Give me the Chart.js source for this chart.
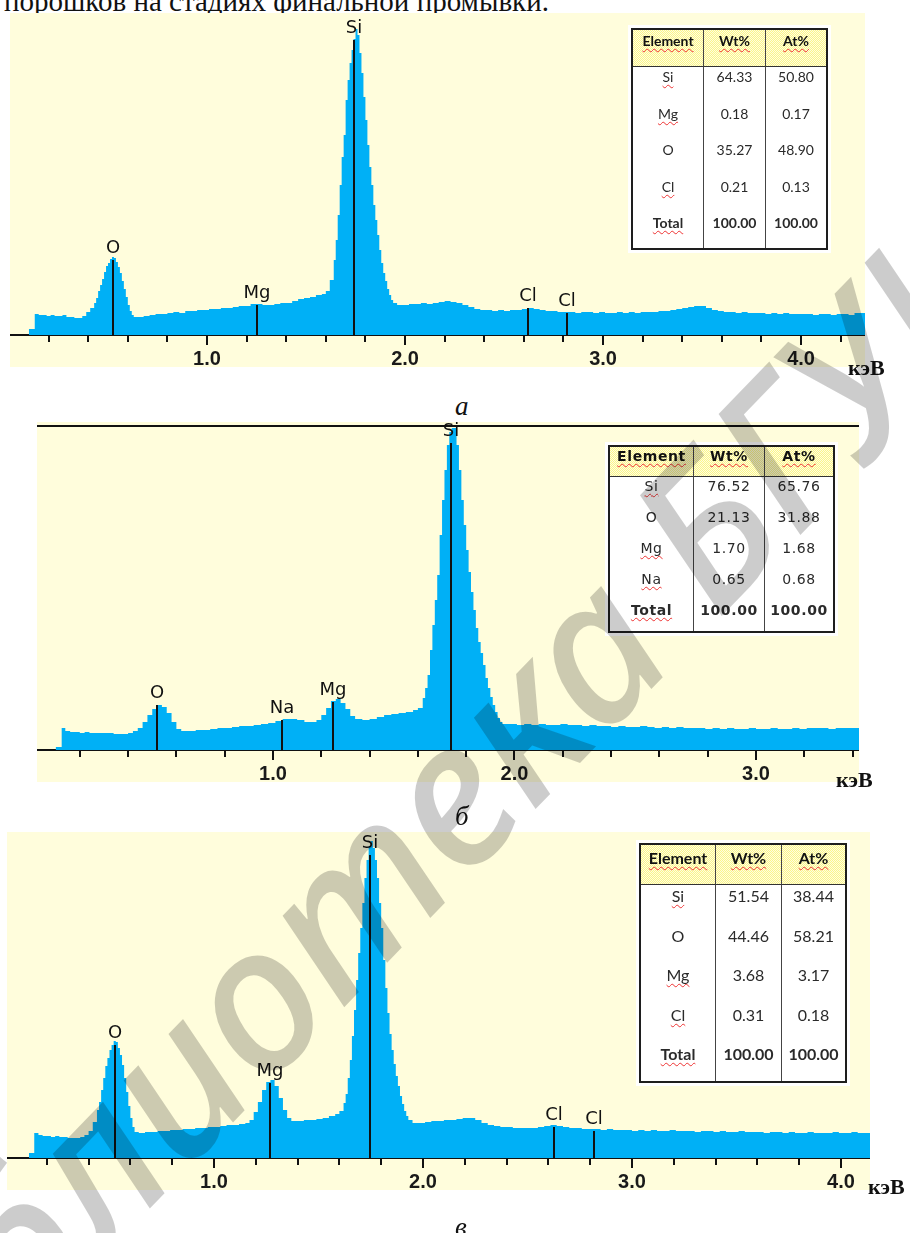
<!DOCTYPE html>
<html><head><meta charset="utf-8">
<script src="https://cdn.jsdelivr.net/npm/chart.js@4.4.1/dist/chart.umd.min.js"></script>
<style>
html,body{margin:0;padding:0;background:#fff;}
body{width:910px;height:1233px;position:relative;overflow:hidden;}
.panel{position:absolute;background:#fffddc;}
.panel canvas{position:absolute;left:0;top:0;}
.txt{position:absolute;line-height:1;color:#111;white-space:nowrap;}
.caption{font:italic 27px "Liberation Serif",serif;}
.unit{font:bold 22px "Liberation Serif",serif;}
.eds{position:absolute;display:grid;box-sizing:border-box;border:2px solid #1e1e1e;background:#fff;box-shadow:0 0 0 3px #fff;color:#2a2a2a;line-height:1.15;}
.cell{text-align:center;box-sizing:border-box;}
.cell.hd{background:repeating-conic-gradient(#fbf68a 0 25%,#fffde0 0 50%) 0 0/2px 2px;border-bottom:1.5px solid #333;color:#111;}
.cell.sep{border-left:1.5px solid #444;}
.sp{text-decoration:underline wavy #e33;text-decoration-thickness:1px;text-underline-offset:2px;text-decoration-skip-ink:none;}
#wm{position:absolute;left:0;top:0;pointer-events:none;z-index:20;}
</style>
</head><body>
<div class="txt" style="left:4px;top:-15px;font:29px 'Liberation Serif',serif;">порошков на стадиях финальной промывки.</div>

<div class="panel" style="left:10px;top:13px;width:855px;height:354px;"><canvas id="cA" width="855" height="354"></canvas></div>
<div class="panel" style="left:37px;top:422px;width:822px;height:360px;"><canvas id="cB" width="822" height="360"></canvas></div>
<div class="panel" style="left:7px;top:832px;width:863px;height:358px;"><canvas id="cC" width="863" height="358"></canvas></div>

<div class="txt unit" style="left:848px;top:355px;">кэВ</div>
<div class="txt unit" style="left:836px;top:767px;">кэВ</div>
<div class="txt unit" style="left:868px;top:1174px;">кэВ</div>
<div class="txt caption" style="left:455px;top:391px;">а</div>
<div class="txt caption" style="left:455px;top:801px;">б</div>
<div class="txt caption" style="left:455px;top:1212px;">в</div>

<canvas id="wm" width="910" height="1233"></canvas>

<script>
// ---------- Spectrum (а) ----------
const energyA = [
0.10,0.13,0.15,0.17,0.19,0.21,0.23,0.25,0.27,0.29,
0.31,0.33,0.35,0.37,0.39,0.41,0.43,0.44,0.45,0.46,
0.47,0.48,0.49,0.50,0.51,0.52,0.53,0.54,0.55,0.56,
0.57,0.58,0.59,0.60,0.61,0.62,0.63,0.65,0.68,0.71,
0.74,0.77,0.80,0.83,0.86,0.89,0.92,0.95,0.98,1.01,
1.04,1.07,1.10,1.13,1.16,1.19,1.22,1.25,1.28,1.31,
1.34,1.37,1.40,1.43,1.46,1.49,1.52,1.55,1.58,1.60,
1.62,1.64,1.65,1.66,1.67,1.68,1.69,1.70,1.71,1.72,
1.73,1.74,1.75,1.76,1.77,1.78,1.79,1.80,1.81,1.82,
1.83,1.84,1.85,1.86,1.87,1.88,1.89,1.90,1.91,1.92,
1.93,1.94,1.96,1.99,2.02,2.05,2.08,2.11,2.14,2.17,
2.20,2.23,2.26,2.29,2.32,2.35,2.38,2.41,2.44,2.47,
2.50,2.53,2.56,2.59,2.62,2.65,2.68,2.71,2.74,2.77,
2.80,2.83,2.86,2.89,2.92,2.95,2.98,3.01,3.04,3.07,
3.10,3.13,3.16,3.19,3.22,3.25,3.28,3.31,3.34,3.37,
3.40,3.43,3.46,3.49,3.52,3.55,3.58,3.61,3.64,3.67,
3.70,3.73,3.76,3.79,3.82,3.85,3.88,3.91,3.94,3.97,
4.00,4.03,4.06,4.09,4.12,4.15,4.18,4.21,4.24,4.27,
4.30,4.33];
const countsA = [
6,21,20,20,19,20,19,19,20,18,
18,17,17,19,23,27,32,37,44,50,
56,63,69,72,76,78,77,73,68,62,
54,46,38,30,24,20,18,18,19,20,
21,21,22,23,22,24,24,25,25,26,
26,27,27,28,29,29,31,31,30,30,
31,32,32,34,36,37,38,40,41,44,
55,75,95,120,150,178,200,235,255,272,
285,296,306,300,282,262,238,215,190,168,
150,130,115,100,85,72,62,54,46,40,
35,32,30,30,31,31,32,31,32,33,
34,33,32,30,28,26,25,25,24,25,
24,25,25,26,27,26,25,24,24,23,
23,23,22,23,23,22,23,22,22,23,
22,23,22,23,23,23,24,24,25,26,
27,28,29,29,27,25,24,23,23,22,
23,22,22,22,21,22,21,22,21,21,
21,21,20,21,21,20,21,21,20,22,
22,22];
const markerKeVA = [0.525,1.253,1.74,2.62,2.82];
const markerTopA = [75,30,295,27,22];
const markerLabA = ['O','Mg','Si','Cl','Cl'];

// ---------- Spectrum (б) ----------
const energyB = [
0.10,0.125,0.14,0.16,0.18,0.20,0.22,0.24,0.26,0.28,
0.30,0.32,0.34,0.36,0.38,0.40,0.42,0.44,0.46,0.48,
0.50,0.52,0.54,0.56,0.58,0.60,0.62,0.65,0.68,0.71,
0.74,0.77,0.80,0.83,0.86,0.89,0.92,0.95,0.98,1.01,
1.04,1.07,1.10,1.13,1.16,1.18,1.20,1.22,1.24,1.26,
1.28,1.30,1.32,1.34,1.37,1.40,1.43,1.46,1.49,1.52,
1.55,1.58,1.60,1.62,1.63,1.64,1.65,1.66,1.67,1.68,
1.69,1.70,1.71,1.72,1.73,1.74,1.75,1.76,1.77,1.78,
1.79,1.80,1.81,1.82,1.83,1.84,1.85,1.86,1.87,1.88,
1.89,1.90,1.91,1.92,1.93,1.94,1.95,1.98,2.01,2.04,
2.07,2.10,2.13,2.16,2.19,2.22,2.25,2.28,2.31,2.34,
2.37,2.40,2.43,2.46,2.49,2.52,2.55,2.58,2.61,2.64,
2.67,2.70,2.73,2.76,2.79,2.82,2.85,2.88,2.91,2.94,
2.97,3.00,3.03,3.06,3.09,3.12,3.15,3.18,3.21,3.24,
3.27,3.30,3.33,3.36,3.39,3.43];
const countsB = [
3,22,19,18,18,17,18,17,17,17,
17,17,16,16,16,17,19,22,28,35,
41,45,43,37,28,21,19,19,20,20,
21,22,22,23,24,24,25,26,27,29,
31,31,30,28,28,30,35,42,49,51,
47,41,34,31,30,31,33,35,36,37,
38,40,42,52,62,75,100,125,150,175,
215,250,280,305,318,322,322,305,280,250,
225,200,178,158,140,122,108,97,85,72,
62,53,45,38,32,28,26,26,25,26,
25,26,25,25,26,25,25,24,25,24,
24,23,24,23,23,24,23,22,23,22,
23,22,22,22,21,22,21,22,21,21,
22,21,21,22,21,21,22,21,22,22,
22,21,22,22,22,22];
const markerKeVB = [0.52,1.039,1.25,1.736];
const markerTopB = [45,30,48,307];
const markerLabB = ['O','Na','Mg','Si'];

// ---------- Spectrum (в) ----------
const energyC = [
0.115,0.14,0.16,0.18,0.20,0.22,0.24,0.26,0.28,0.30,
0.32,0.34,0.36,0.38,0.40,0.42,0.44,0.45,0.46,0.47,
0.48,0.49,0.50,0.51,0.52,0.53,0.54,0.55,0.56,0.57,
0.58,0.59,0.60,0.61,0.62,0.64,0.67,0.70,0.73,0.76,
0.79,0.82,0.85,0.88,0.91,0.94,0.97,1.00,1.03,1.06,
1.09,1.12,1.15,1.17,1.19,1.21,1.23,1.25,1.27,1.29,
1.31,1.33,1.35,1.37,1.40,1.43,1.46,1.49,1.52,1.55,
1.58,1.60,1.62,1.63,1.64,1.65,1.66,1.67,1.68,1.69,
1.70,1.71,1.72,1.73,1.74,1.75,1.76,1.77,1.78,1.79,
1.80,1.81,1.82,1.83,1.84,1.85,1.86,1.87,1.88,1.89,
1.90,1.91,1.92,1.93,1.95,1.98,2.01,2.04,2.07,2.10,
2.13,2.16,2.19,2.22,2.25,2.28,2.31,2.34,2.37,2.40,
2.43,2.46,2.49,2.52,2.55,2.58,2.61,2.64,2.67,2.70,
2.73,2.76,2.79,2.82,2.85,2.88,2.91,2.94,2.97,3.00,
3.03,3.06,3.09,3.12,3.15,3.18,3.21,3.24,3.27,3.30,
3.33,3.36,3.39,3.42,3.45,3.48,3.51,3.54,3.57,3.60,
3.63,3.66,3.69,3.72,3.75,3.78,3.81,3.84,3.87,3.90,
3.93,3.96,3.99,4.02,4.05,4.08,4.11,4.14];
const countsC = [
5,25,23,22,22,21,22,21,21,20,
20,20,21,23,27,36,48,56,68,80,
92,100,108,113,117,116,110,103,93,80,
66,52,40,31,26,25,26,26,27,27,
28,28,29,29,30,30,31,31,32,33,
33,34,35,38,46,56,68,76,78,72,
60,48,40,37,37,38,38,39,40,42,
44,47,55,64,80,98,122,148,178,205,
230,255,280,298,312,317,310,298,280,255,
230,198,170,145,124,108,94,82,72,62,
54,47,42,38,35,35,36,37,37,38,
38,39,40,40,38,35,33,32,31,31,
30,30,30,30,31,32,33,32,31,30,
30,29,29,29,28,29,28,28,28,27,
28,27,28,27,27,28,27,27,27,26,
27,27,26,27,26,26,27,26,26,26,
25,26,26,25,26,25,25,26,25,25,
25,26,25,25,26,25,25,25];
const markerKeVC = [0.526,1.268,1.747,2.628,2.817];
const markerTopC = [113,75,303,31,27];
const markerLabC = ['O','Mg','Si','Cl','Cl'];

// ---------- Tables ----------
const tableHeader = ['Element','Wt%','At%'];
const elemsA = ['Si','Mg','O','Cl','Total'];
const wtA = ['64.33','0.18','35.27','0.21','100.00'];
const atA = ['50.80','0.17','48.90','0.13','100.00'];
const elemsB = ['Si','O','Mg','Na','Total'];
const wtB = ['76.52','21.13','1.70','0.65','100.00'];
const atB = ['65.76','31.88','1.68','0.68','100.00'];
const elemsC = ['Si','O','Mg','Cl','Total'];
const wtC = ['51.54','44.46','3.68','0.31','100.00'];
const atC = ['38.44','58.21','3.17','0.18','100.00'];
const tickLabels = ['1.0','2.0','3.0','4.0'];

function makePlugin(keV, tops, labs, topLine){
  return {
    id:'edsMarkers',
    afterDraw(chart){
      const c = chart.ctx, xs = chart.scales.x, ys = chart.scales.y, ca = chart.chartArea;
      c.save();
      c.strokeStyle = '#111'; c.lineWidth = 2;
      for (let v = 1; v <= 4; v++){
        if (v < xs.min || v > xs.max) continue;
        const x = Math.round(xs.getPixelForValue(v));
        c.beginPath(); c.moveTo(x, ca.bottom); c.lineTo(x, ca.bottom + 10); c.stroke();
      }
      if (topLine){
        c.lineWidth = 2;
        c.beginPath(); c.moveTo(0, ca.top); c.lineTo(chart.width, ca.top); c.stroke();
      }
      c.font = '18px "DejaVu Sans", sans-serif';
      c.fillStyle = '#111'; c.textAlign = 'center'; c.textBaseline = 'alphabetic';
      keV.forEach((e,i)=>{
        const x = Math.round(xs.getPixelForValue(e));
        const y0 = ys.getPixelForValue(0), y1 = ys.getPixelForValue(tops[i]);
        c.lineWidth = 2;
        c.beginPath(); c.moveTo(x, y0); c.lineTo(x, y1); c.stroke();
        c.fillText(labs[i], x, y1 - 7);
      });
      c.restore();
    }
  };
}

function makeChart(id, energies, counts, xmin, xmax, ymax, padTop, plugin){
  return new Chart(document.getElementById(id), {
    type:'line',
    data:{datasets:[{
      data: energies.map((e,i)=>({x:e, y:counts[i]})),
      stepped:true, fill:'origin', backgroundColor:'#00b0f6',
      borderWidth:0, borderColor:'rgba(0,0,0,0)', pointRadius:0
    }]},
    options:{
      responsive:false, animation:false, devicePixelRatio:1,
      layout:{padding:{top:padTop, left:0, right:0, bottom:0}},
      plugins:{legend:{display:false}, tooltip:{enabled:false}},
      scales:{
        x:{type:'linear', min:xmin, max:xmax, position:'bottom',
           border:{display:true, color:'#111', width:2},
           grid:{display:true, drawOnChartArea:false, drawTicks:true, tickLength:7, color:'#111', lineWidth:2},
           ticks:{stepSize:0.2, includeBounds:false, autoSkip:false, maxRotation:0, minRotation:0, padding:5,
                  color:'#1a1a1a', font:{family:'"Liberation Sans", Arial, sans-serif', weight:'bold', size:20},
                  callback:(v)=>{ const r=Math.round(v); return Math.abs(v-r)<1e-6 && r>=1 ? tickLabels[r-1] : ''; }},
           afterFit:(s)=>{ s.height = 32; }
        },
        y:{display:false, min:0, max:ymax}
      }
    },
    plugins:[plugin]
  });
}

makeChart('cA', energyA, countsA, 0.005, 4.323, 322, 0, makePlugin(markerKeVA, markerTopA, markerLabA, false));
makeChart('cB', energyB, countsB, 0.0228, 3.4265, 324, 4, makePlugin(markerKeVB, markerTopB, markerLabB, true));
makeChart('cC', energyC, countsC, 0.0096, 4.139, 326, 0, makePlugin(markerKeVC, markerTopC, markerLabC, false));

function makeTable(spec, elems, wt, at){
  const t = document.createElement('div');
  t.className = 'eds';
  Object.assign(t.style, {left:spec.left+'px', top:spec.top+'px', width:spec.w+'px', height:spec.h+'px',
    fontFamily:spec.font, fontSize:spec.size+'px', letterSpacing:spec.ls,
    gridTemplateColumns: spec.cols.map(v=>v+'px').join(' '),
    gridTemplateRows: spec.rows.map(v=>v+'px').join(' ')});
  const rows = [tableHeader].concat(elems.map((e,i)=>[e, wt[i], at[i]]));
  rows.forEach((r,ri)=>{
    r.forEach((txt,ci)=>{
      const cell = document.createElement('div');
      cell.className = 'cell' + (ri===0?' hd':'') + (ci>0?' sep':'');
      cell.style.paddingTop = (ri===0?spec.hpad:spec.bpad)+'px';
      if (ri===0 || ri===rows.length-1) cell.style.fontWeight = 'bold';
      const s = document.createElement('span');
      s.textContent = txt;
      if (ri===0 || (ci===0 && txt!=='O')) s.className = 'sp';
      cell.appendChild(s);
      t.appendChild(cell);
    });
  });
  document.body.appendChild(t);
}
makeTable({left:631, top:28, w:197, h:222, font:'Lato, sans-serif', size:14, ls:'0px',
  cols:[70,62,61], rows:[37,37,36,37,36,35], hpad:3, bpad:2}, elemsA, wtA, atA);
makeTable({left:608, top:445, w:227, h:188, font:'"DejaVu Sans", sans-serif', size:14, ls:'0.6px',
  cols:[83,71,69], rows:[30,31,31,31,31,30], hpad:1, bpad:1}, elemsB, wtB, atB);
makeTable({left:639, top:843, w:208, h:240, font:'Lato, sans-serif', size:16, ls:'0px',
  cols:[74,66,64], rows:[40,40,39,40,39,38], hpad:4, bpad:2}, elemsC, wtC, atC);

// ---------- watermark ----------
(function(){
  const c = document.getElementById('wm').getContext('2d');
  const fs = 200;
  c.font = 'italic 500 ' + fs + 'px "Noto Sans", "Open Sans", sans-serif';
  const text = '©Библиотека БГУИР';
  const ang = -46 * Math.PI / 180;
  const u = [Math.cos(ang), Math.sin(ang)], n = [-Math.sin(ang), Math.cos(ang)];
  // anchor: centre of the capital "Б" of "БГУИР"
  const pre = c.measureText('©Библиотека ').width + c.measureText('Б').width / 2;
  const cx = 705, cy = 530, ch = 0.36 * fs;
  const bx = cx + n[0]*ch - u[0]*pre, by = cy + n[1]*ch - u[1]*pre;
  c.save(); c.translate(bx, by); c.rotate(ang);
  c.fillStyle = 'rgba(0,0,0,0.2)';
  c.fillText(text, 0, 0);
  c.restore();
})();
</script>
</body></html>
